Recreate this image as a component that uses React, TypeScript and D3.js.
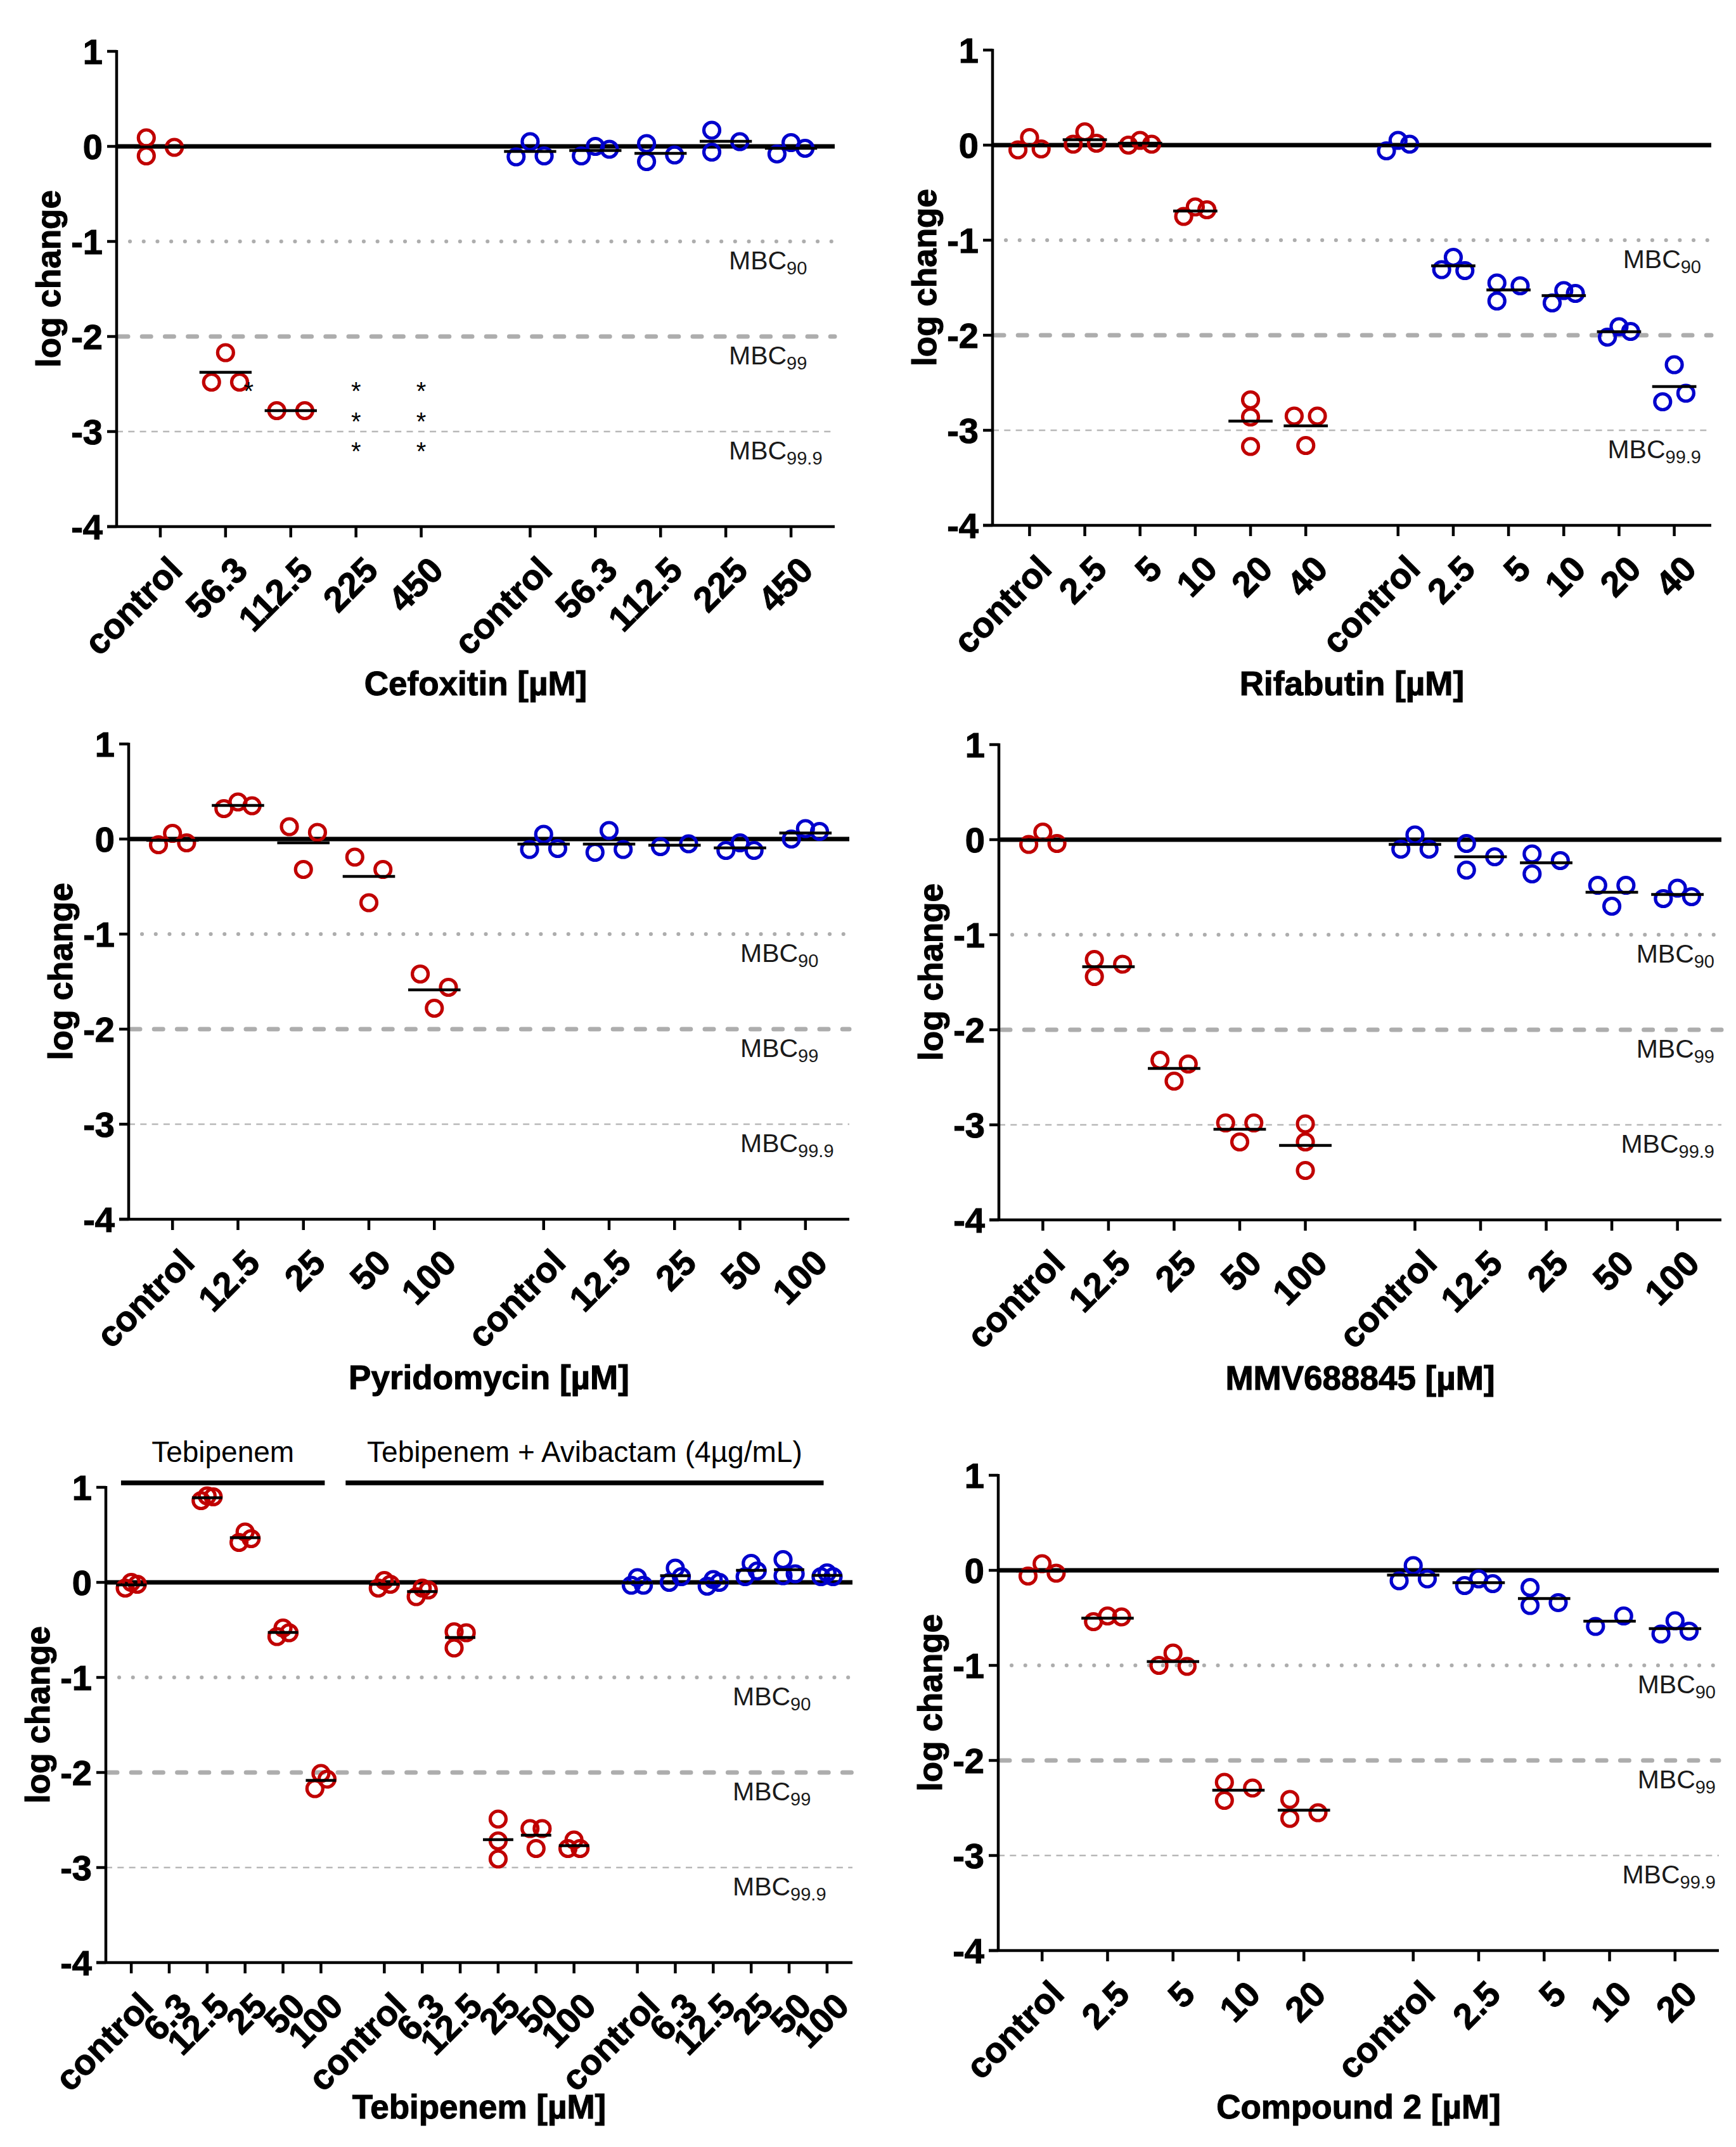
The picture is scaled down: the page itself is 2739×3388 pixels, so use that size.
import React from "react";
import * as d3 from "d3";

const RED = "#c00000";
const BLUE = "#0000cc";
const FONT = "'Liberation Sans', Arial, Helvetica, sans-serif";

// shared axis values
const yTicks = [1, 0, -1, -2, -3, -4];
const mbcLevels = [-1, -2, -3];
const mbcSubs = ["90", "99", "99.9"];

// Cefoxitin
const cefoxitinDoses = ["control", "56.3", "112.5", "225", "450"];
const cefoxitinRed = [[0.09, -0.1, -0.01], [-2.17, -2.48, -2.48], [-2.78, -2.78], [], []];
const cefoxitinBlue = [
  [-0.11, 0.05, -0.1], [-0.1, 0.0, -0.03], [0.03, -0.16, -0.09], [0.17, -0.06, 0.05], [-0.08, 0.04, -0.02],
];
// replicates below the detection limit (red series)
const cefoxitinBelowLimit = [0, 0, 1, 3, 3];
const asteriskLevels = [-2.52, -2.84, -3.15];

// Rifabutin
const rifabutinDoses = ["control", "2.5", "5", "10", "20", "40"];
const rifabutinRed = [
  [-0.05, 0.08, -0.04], [0.01, 0.14, 0.02], [0.0, 0.05, 0.01],
  [-0.75, -0.65, -0.68], [-2.68, -2.86, -3.17], [-2.85, -2.85, -3.16],
];
const rifabutinBlue = [
  [-0.06, 0.05, 0.01], [-1.31, -1.18, -1.32], [-1.45, -1.64, -1.48],
  [-1.66, -1.53, -1.56], [-2.02, -1.91, -1.96], [-2.31, -2.7, -2.61],
];

// Pyridomycin
const pyridomycinDoses = ["control", "12.5", "25", "50", "100"];
const pyridomycinRed = [
  [-0.06, 0.06, -0.04], [0.32, 0.39, 0.35], [0.13, -0.32, 0.07], [-0.19, -0.67, -0.32], [-1.42, -1.78, -1.56],
];
const pyridomycinBlue = [
  [-0.11, 0.05, -0.1], [-0.14, 0.09, -0.11], [-0.08, -0.05], [-0.12, -0.04, -0.12], [0.0, 0.11, 0.08],
];

// MMV688845
const mmvDoses = ["control", "12.5", "25", "50", "100"];
const mmvRed = [
  [-0.05, 0.08, -0.04], [-1.26, -1.44, -1.31], [-2.32, -2.54, -2.36], [-2.98, -3.18, -2.98], [-2.99, -3.18, -3.48],
];
const mmvBlue = [
  [-0.1, 0.05, -0.1], [-0.04, -0.32, -0.18], [-0.15, -0.36, -0.22], [-0.48, -0.7, -0.48], [-0.62, -0.51, -0.6],
];

// Tebipenem
const tebipenemDoses = ["control", "6.3", "12.5", "25", "50", "100"];
const tebipenemRed = [
  [-0.06, 0.0, -0.02], [], [0.86, 0.91, 0.9], [0.42, 0.53, 0.46], [-0.57, -0.48, -0.53], [-2.17, -2.01, -2.07],
];
const tebipenemAviRed = [
  [-0.06, 0.02, -0.02], [-0.15, -0.06, -0.08], [-0.69, -0.52, -0.53],
  [-2.49, -2.72, -2.91], [-2.59, -2.8, -2.59], [-2.8, -2.71, -2.8],
];
const tebipenemAviBlue = [
  [-0.03, 0.05, -0.03], [0.0, 0.15, 0.06], [-0.04, 0.0, 0.03],
  [0.06, 0.2, 0.12], [0.24, 0.07, 0.09], [0.06, 0.1, 0.06],
];
// bracket spans in category slots
const tebipenemBrackets = [
  { label: "Tebipenem", from: -0.27, to: 5.1 },
  { label: "Tebipenem + Avibactam (4µg/mL)", from: 5.65, to: 18.25 },
];

// Compound 2
const compound2Doses = ["control", "2.5", "5", "10", "20"];
const compound2Red = [
  [-0.06, 0.07, -0.03], [-0.54, -0.48, -0.49], [-1.0, -0.87, -1.01], [-2.23, -2.42, -2.29], [-2.41, -2.61, -2.55],
];
const compound2Blue = [
  [-0.11, 0.05, -0.09], [-0.16, -0.09, -0.14], [-0.18, -0.37, -0.34], [-0.59, -0.48], [-0.67, -0.53, -0.64],
];

type Series = { values: number[][]; color: string };
type PanelCfg = {
  left: number;
  right: number;
  top: number;
  doses: string[];
  series: Series[];
  title: string;
  mbc: number[];
  mbcAnchor: "start" | "end";
  mbcDx: number;
  xTitleDy: number;
  laneFrac: number;
  belowLimit?: number[];
  brackets?: { label: string; from: number; to: number }[];
};

// Prism-like scatter: overlapping replicates are spread into lanes
function lanesFor(vals: number[], thr = 0.167): number[] {
  const n = vals.length;
  const lanes = new Array(n).fill(0);
  const hit = (a: number, b: number) => Math.abs(vals[a] - vals[b]) < thr;
  const seen = new Array(n).fill(false);
  for (let i = 0; i < n; i++) {
    if (seen[i]) continue;
    const comp = [i];
    seen[i] = true;
    for (let k = 0; k < comp.length; k++)
      for (let j = 0; j < n; j++)
        if (!seen[j] && hit(comp[k], j)) {
          seen[j] = true;
          comp.push(j);
        }
    comp.sort((a, b) => a - b);
    if (comp.length === 2) {
      lanes[comp[0]] = -1;
      lanes[comp[1]] = 1;
    } else if (comp.length === 3) {
      const [a, b, c] = comp;
      if (hit(a, b) && hit(b, c) && hit(a, c)) {
        const top = comp.reduce((m, k) => (vals[k] > vals[m] ? k : m), comp[0]);
        const rest = comp.filter((k) => k !== top);
        lanes[rest[0]] = -1;
        lanes[rest[1]] = 1;
      } else {
        const mid = comp.find((k) => comp.every((o) => o === k || hit(k, o)));
        comp.forEach((k) => (lanes[k] = k === mid ? 1 : -1));
      }
    }
  }
  return lanes;
}

// bold labels are a touch heavier in the original
const boldText = { fontWeight: "bold" as const, stroke: "#000", strokeWidth: 1.1 };

const Panel: React.FC<{ cfg: PanelCfg }> = ({ cfg }) => {
  const n = cfg.doses.length;
  const gap = 0.67;
  const slot = (g: number, i: number) => g * (n + gap) + i;
  const last = slot(cfg.series.length - 1, n - 1);
  const x = d3.scaleLinear().domain([-0.67, last + 0.67]).range([cfg.left, cfg.right]);
  const y = d3.scaleLinear().domain([-4, 1]).range([cfg.top + 750, cfg.top]);
  const step = x(1) - x(0);
  const lane = step * cfg.laneFrac;
  const base = y(-4);

  const refStyles = [
    { x1: cfg.left + 21, stroke: "#adadad", strokeWidth: 6, strokeDasharray: "0.1 21.6", strokeLinecap: "round" as const },
    { x1: cfg.left + 4, stroke: "#adadad", strokeWidth: 7, strokeDasharray: "14 22.2", strokeLinecap: "round" as const },
    { x1: cfg.left, stroke: "#b8b8b8", strokeWidth: 2.7, strokeDasharray: "10 8.3" },
  ];

  return (
    <g fontFamily={FONT}>
      {mbcLevels.map((v, k) => (
        <line key={`r${k}`} x2={cfg.right} y1={y(v)} y2={y(v)} {...refStyles[k]} />
      ))}
      {cfg.mbc.map((k) => (
        <text
          key={`m${k}`}
          x={cfg.right + cfg.mbcDx}
          y={y(mbcLevels[k]) + 44}
          textAnchor={cfg.mbcAnchor}
          fontSize={41}
          fill="#1a1a1a"
        >
          MBC
          <tspan fontSize={29} dy={8}>
            {mbcSubs[k]}
          </tspan>
        </text>
      ))}
      <line x1={cfg.left} x2={cfg.right} y1={y(0)} y2={y(0)} stroke="#000" strokeWidth={7} />

      {/* axes */}
      <line x1={cfg.left} x2={cfg.left} y1={y(1) - 2} y2={base + 2} stroke="#000" strokeWidth={4.5} />
      <line x1={cfg.left - 15} x2={cfg.right} y1={base} y2={base} stroke="#000" strokeWidth={4.5} />
      {yTicks.map((t) => (
        <g key={`y${t}`}>
          <line x1={cfg.left - 15} x2={cfg.left} y1={y(t)} y2={y(t)} stroke="#000" strokeWidth={4.5} />
          <text x={cfg.left - 22} y={y(t)} dy="0.36em" textAnchor="end" fontSize={56} {...boldText}>
            {t}
          </text>
        </g>
      ))}
      {cfg.series.map((s, g) =>
        cfg.doses.map((d, i) => {
          const cx = x(slot(g, i));
          return (
            <g key={`x${g}-${i}`}>
              <line x1={cx} x2={cx} y1={base} y2={base + 17} stroke="#000" strokeWidth={4.5} />
              <text
                transform={`translate(${cx + 24},${base + 58}) rotate(-45)`}
                dy="0.35em"
                textAnchor="end"
                fontSize={56}
                {...boldText}
              >
                {d}
              </text>
            </g>
          );
        })
      )}

      {/* replicates and means */}
      {cfg.series.map((s, g) =>
        s.values.map((vals, i) => {
          const cx = x(slot(g, i));
          const lanes = lanesFor(vals);
          const mean = d3.mean(vals);
          return (
            <g key={`p${g}-${i}`}>
              {vals.map((v, k) => (
                <circle
                  key={k}
                  cx={cx + lanes[k] * lane}
                  cy={y(v)}
                  r={12.5}
                  fill="none"
                  stroke={s.color}
                  strokeWidth={5.2}
                />
              ))}
              {mean !== undefined && (
                <line
                  x1={cx - 0.4 * step}
                  x2={cx + 0.4 * step}
                  y1={y(mean)}
                  y2={y(mean)}
                  stroke="#000"
                  strokeWidth={4.5}
                />
              )}
            </g>
          );
        })
      )}

      {cfg.belowLimit &&
        cfg.belowLimit.map((cnt, i) => {
          const hasPts = cfg.series[0].values[i].length > 0;
          const cx = x(slot(0, i)) + (hasPts ? -3 * lane : 0);
          return asteriskLevels.slice(0, cnt).map((v, k) => (
            <text key={`a${i}-${k}`} x={cx} y={y(v)} dy="0.55em" textAnchor="middle" fontSize={40}>
              *
            </text>
          ));
        })}

      {cfg.brackets &&
        cfg.brackets.map((b, k) => {
          const x1 = x(b.from);
          const x2 = x(b.to);
          const by = y(1) - 7;
          return (
            <g key={`b${k}`}>
              <line x1={x1} x2={x2} y1={by} y2={by} stroke="#000" strokeWidth={7.5} />
              <text x={(x1 + x2) / 2} y={by - 33} textAnchor="middle" fontSize={46}>
                {b.label}
              </text>
            </g>
          );
        })}

      {/* titles */}
      <text
        transform={`translate(${cfg.left - 108},${(y(1) + base) / 2 - 16}) rotate(-90)`}
        dy="0.35em"
        textAnchor="middle"
        fontSize={53}
        {...boldText}
      >
        log change
      </text>
      <text x={(cfg.left + cfg.right) / 2} y={base + cfg.xTitleDy} textAnchor="middle" fontSize={53} {...boldText}>
        {cfg.title}
      </text>
    </g>
  );
};

const panels: PanelCfg[] = [
  {
    left: 184, right: 1317, top: 81, doses: cefoxitinDoses,
    series: [{ values: cefoxitinRed, color: RED }, { values: cefoxitinBlue, color: BLUE }],
    title: "Cefoxitin [µM]", mbc: [0, 1, 2], mbcAnchor: "start", mbcDx: -167,
    xTitleDy: 266, laneFrac: 0.215, belowLimit: cefoxitinBelowLimit,
  },
  {
    left: 1566, right: 2700, top: 79, doses: rifabutinDoses,
    series: [{ values: rifabutinRed, color: RED }, { values: rifabutinBlue, color: BLUE }],
    title: "Rifabutin [µM]", mbc: [0, 2], mbcAnchor: "end", mbcDx: -16,
    xTitleDy: 268, laneFrac: 0.21,
  },
  {
    left: 203, right: 1340, top: 1174, doses: pyridomycinDoses,
    series: [{ values: pyridomycinRed, color: RED }, { values: pyridomycinBlue, color: BLUE }],
    title: "Pyridomycin [µM]", mbc: [0, 1, 2], mbcAnchor: "start", mbcDx: -172,
    xTitleDy: 268, laneFrac: 0.215,
  },
  {
    left: 1576, right: 2716, top: 1175, doses: mmvDoses,
    series: [{ values: mmvRed, color: RED }, { values: mmvBlue, color: BLUE }],
    title: "MMV688845 [µM]", mbc: [0, 1, 2], mbcAnchor: "end", mbcDx: -11,
    xTitleDy: 268, laneFrac: 0.215,
  },
  {
    left: 167, right: 1345, top: 2347, doses: tebipenemDoses,
    series: [
      { values: tebipenemRed, color: RED },
      { values: tebipenemAviRed, color: RED },
      { values: tebipenemAviBlue, color: BLUE },
    ],
    title: "Tebipenem [µM]", mbc: [0, 1, 2], mbcAnchor: "start", mbcDx: -189,
    xTitleDy: 246, laneFrac: 0.16, brackets: tebipenemBrackets,
  },
  {
    left: 1575, right: 2712, top: 2328, doses: compound2Doses,
    series: [{ values: compound2Red, color: RED }, { values: compound2Blue, color: BLUE }],
    title: "Compound 2 [µM]", mbc: [0, 1, 2], mbcAnchor: "end", mbcDx: -5,
    xTitleDy: 265, laneFrac: 0.215,
  },
];

export default function App() {
  return (
    <div style={{ position: "absolute", left: 0, top: 0 }}>
      <style>{`body{margin:0;background:#fff}`}</style>
      <svg width={2739} height={3388} viewBox="0 0 2739 3388" style={{ display: "block", background: "#fff" }}>
        {panels.map((p, k) => (
          <Panel key={k} cfg={p} />
        ))}
      </svg>
    </div>
  );
}
